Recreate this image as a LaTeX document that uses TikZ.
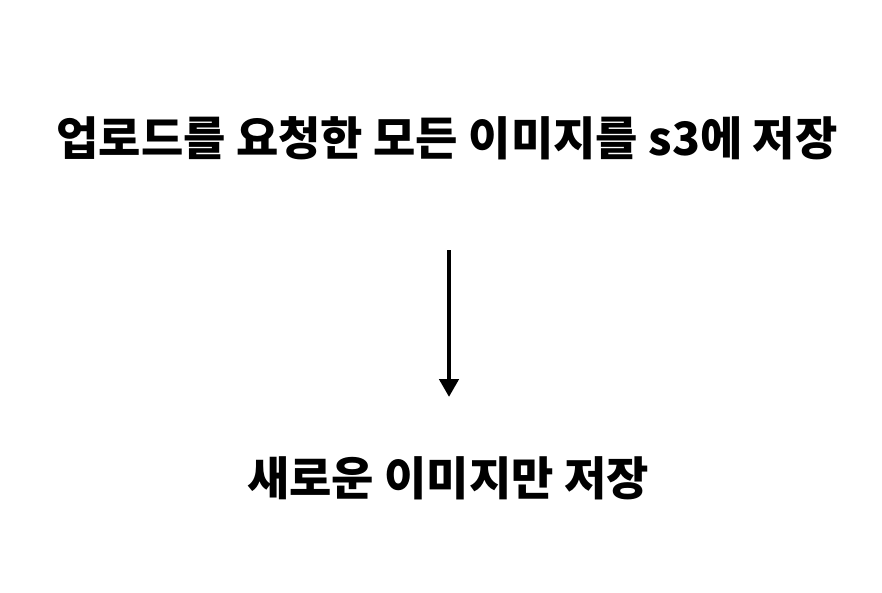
\documentclass[tikz,border=0pt]{standalone}
\usepackage{fontspec}
\usepackage{tikz}
\usetikzlibrary{arrows.meta}
\newfontfamily\kr{Noto Sans CJK KR}
\tikzset{
Titre/.style={
 font=\kr\bfseries\fontsize{46}{54}\selectfont,
 inner sep=0pt
 },
Fleche/.style={
 draw=black,
 line width=4.5pt,
 -{Triangle[width=19pt,length=18pt]}
 }
}
\begin{document}
\begin{tikzpicture}[x=1pt,y=1pt]
\useasboundingbox (0,0) rectangle (882,-592);
\node[Titre] (upload) at (447,-138) {업로드를 요청한 모든 이미지를 s3에 저장};
\node[Titre] (newonly) at (448,-478) {새로운 이미지만 저장};
\draw[Fleche,shorten <=112pt,shorten >=81pt] ([xshift=2pt]upload.center) -- ([xshift=1pt]newonly.center);
\end{tikzpicture}
\end{document}
